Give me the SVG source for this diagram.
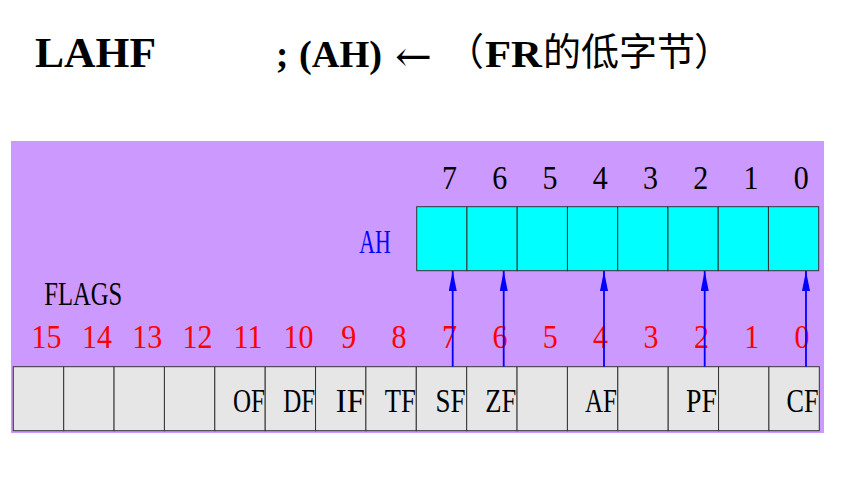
<svg xmlns="http://www.w3.org/2000/svg" width="841" height="481" viewBox="0 0 841 481">
<style>
.serif{font-family:"DejaVu Serif","Liberation Serif",serif}
.title{font-family:"Liberation Serif","Noto Sans CJK SC",serif;font-weight:bold;fill:#000}
.cjk{font-family:"Noto Sans CJK SC",sans-serif;fill:#000}
.num{font-family:"Liberation Serif",serif;font-size:30px;text-anchor:middle}
.blk{fill:#000}
.red{fill:#ff0000}
.lab{font-family:"Liberation Serif",serif;font-size:30px;fill:#000;text-anchor:end}
.ahcell{fill:#00ffff;stroke:#333;stroke-width:1}
.fcell{fill:#e6e6e6;stroke:#333;stroke-width:1}
.arrow{stroke:#0000ff;stroke-width:1.8;fill:none;marker-end:url(#ah)}
</style>
<defs>
<marker id="ah" viewBox="0 0 20 8" refX="20" refY="4" markerWidth="20" markerHeight="8" markerUnits="userSpaceOnUse" orient="auto">
<path d="M0,0 L20,4 L0,8 z" fill="#0000ff"/>
</marker>
</defs>
<rect width="841" height="481" fill="#ffffff"/>
<g id="title">
<text class="title" x="35" y="67" font-size="43" textLength="121" lengthAdjust="spacingAndGlyphs">LAHF</text>
<text class="title" x="276" y="67" font-size="37">;</text>
<text class="title" x="299" y="67" font-size="37" textLength="83" lengthAdjust="spacingAndGlyphs">(AH)</text>
<text class="serif" x="395" y="71" font-size="42" textLength="37" lengthAdjust="spacingAndGlyphs">←</text>
<text class="cjk" x="446" y="65" font-size="38">（</text>
<text class="title" x="485" y="67" font-size="37" textLength="57" lengthAdjust="spacingAndGlyphs">FR</text>
<text class="cjk" x="543" y="65" font-size="38">的低字节</text>
<text class="cjk" x="694" y="65" font-size="38">）</text>
</g>
<rect id="panel" x="11" y="141" width="813" height="292" fill="#cc99ff"/>
<g id="ah-register">
<text transform="translate(0,252.7) scale(1,1.1)" x="359.3" y="0" font-family="Liberation Serif,serif" font-size="30" fill="#0000ff" textLength="31.5" lengthAdjust="spacingAndGlyphs">AH</text>
<rect class="ahcell" x="416.7" y="206.7" width="50.25" height="64"/>
<rect class="ahcell" x="466.95" y="206.7" width="50.25" height="64"/>
<rect class="ahcell" x="517.2" y="206.7" width="50.25" height="64"/>
<rect class="ahcell" x="567.45" y="206.7" width="50.25" height="64"/>
<rect class="ahcell" x="617.7" y="206.7" width="50.25" height="64"/>
<rect class="ahcell" x="667.95" y="206.7" width="50.25" height="64"/>
<rect class="ahcell" x="718.2" y="206.7" width="50.25" height="64"/>
<rect class="ahcell" x="768.45" y="206.7" width="50.25" height="64"/>
<g class="num blk" transform="translate(0,189.3) scale(1,1.1)">
<text x="449.4" y="0">7</text>
<text x="499.7" y="0">6</text>
<text x="550" y="0">5</text>
<text x="600.2" y="0">4</text>
<text x="650.5" y="0">3</text>
<text x="700.7" y="0">2</text>
<text x="751" y="0">1</text>
<text x="801.2" y="0">0</text>
</g>
</g>
<g id="flags-register">
<text transform="translate(0,305) scale(1,1.1)" x="44.3" y="0" font-family="Liberation Serif,serif" font-size="30" fill="#000" textLength="78" lengthAdjust="spacingAndGlyphs">FLAGS</text>
<g class="num red" transform="translate(0,348.3) scale(1,1.1)">
<text x="46.5" y="0">15</text>
<text x="96.9" y="0">14</text>
<text x="147.2" y="0">13</text>
<text x="197.6" y="0">12</text>
<text x="248" y="0">11</text>
<text x="298.4" y="0">10</text>
<text x="348.8" y="0">9</text>
<text x="399.1" y="0">8</text>
<text x="449.5" y="0">7</text>
<text x="499.9" y="0">6</text>
<text x="550.2" y="0">5</text>
<text x="600.6" y="0">4</text>
<text x="651" y="0">3</text>
<text x="701.4" y="0">2</text>
<text x="751.8" y="0">1</text>
<text x="802.1" y="0">0</text>
</g>
<rect class="fcell" x="13.3" y="366.7" width="50.4" height="64"/>
<rect class="fcell" x="63.7" y="366.7" width="50.4" height="64"/>
<rect class="fcell" x="114.05" y="366.7" width="50.4" height="64"/>
<rect class="fcell" x="164.4" y="366.7" width="50.4" height="64"/>
<rect class="fcell" x="214.8" y="366.7" width="50.4" height="64"/>
<rect class="fcell" x="265.2" y="366.7" width="50.4" height="64"/>
<rect class="fcell" x="315.55" y="366.7" width="50.4" height="64"/>
<rect class="fcell" x="365.9" y="366.7" width="50.4" height="64"/>
<rect class="fcell" x="416.3" y="366.7" width="50.4" height="64"/>
<rect class="fcell" x="466.7" y="366.7" width="50.4" height="64"/>
<rect class="fcell" x="517.05" y="366.7" width="50.4" height="64"/>
<rect class="fcell" x="567.4" y="366.7" width="50.4" height="64"/>
<rect class="fcell" x="617.8" y="366.7" width="50.4" height="64"/>
<rect class="fcell" x="668.2" y="366.7" width="50.4" height="64"/>
<rect class="fcell" x="718.55" y="366.7" width="50.4" height="64"/>
<rect class="fcell" x="768.9" y="366.7" width="50.4" height="64"/>
<g class="lab" transform="translate(0,411.7) scale(1,1.1)">
<text x="265" y="0" textLength="32" lengthAdjust="spacingAndGlyphs">OF</text>
<text x="315.2" y="0" textLength="32" lengthAdjust="spacingAndGlyphs">DF</text>
<text x="364.8" y="0" textLength="29" lengthAdjust="spacingAndGlyphs">IF</text>
<text x="415.8" y="0" textLength="31" lengthAdjust="spacingAndGlyphs">TF</text>
<text x="465.5" y="0" textLength="30" lengthAdjust="spacingAndGlyphs">SF</text>
<text x="516.2" y="0" textLength="31" lengthAdjust="spacingAndGlyphs">ZF</text>
<text x="617" y="0" textLength="32" lengthAdjust="spacingAndGlyphs">AF</text>
<text x="717" y="0" textLength="31" lengthAdjust="spacingAndGlyphs">PF</text>
<text x="818.5" y="0" textLength="32" lengthAdjust="spacingAndGlyphs">CF</text>
</g>
</g>
<g id="connectors">
<line class="arrow" x1="452.7" y1="366.7" x2="452.7" y2="271"/>
<line class="arrow" x1="503.7" y1="366.7" x2="503.7" y2="271"/>
<line class="arrow" x1="604" y1="366.7" x2="604" y2="271"/>
<line class="arrow" x1="704.7" y1="366.7" x2="704.7" y2="271"/>
<line class="arrow" x1="806" y1="366.7" x2="806" y2="271"/>
</g>
</svg>
